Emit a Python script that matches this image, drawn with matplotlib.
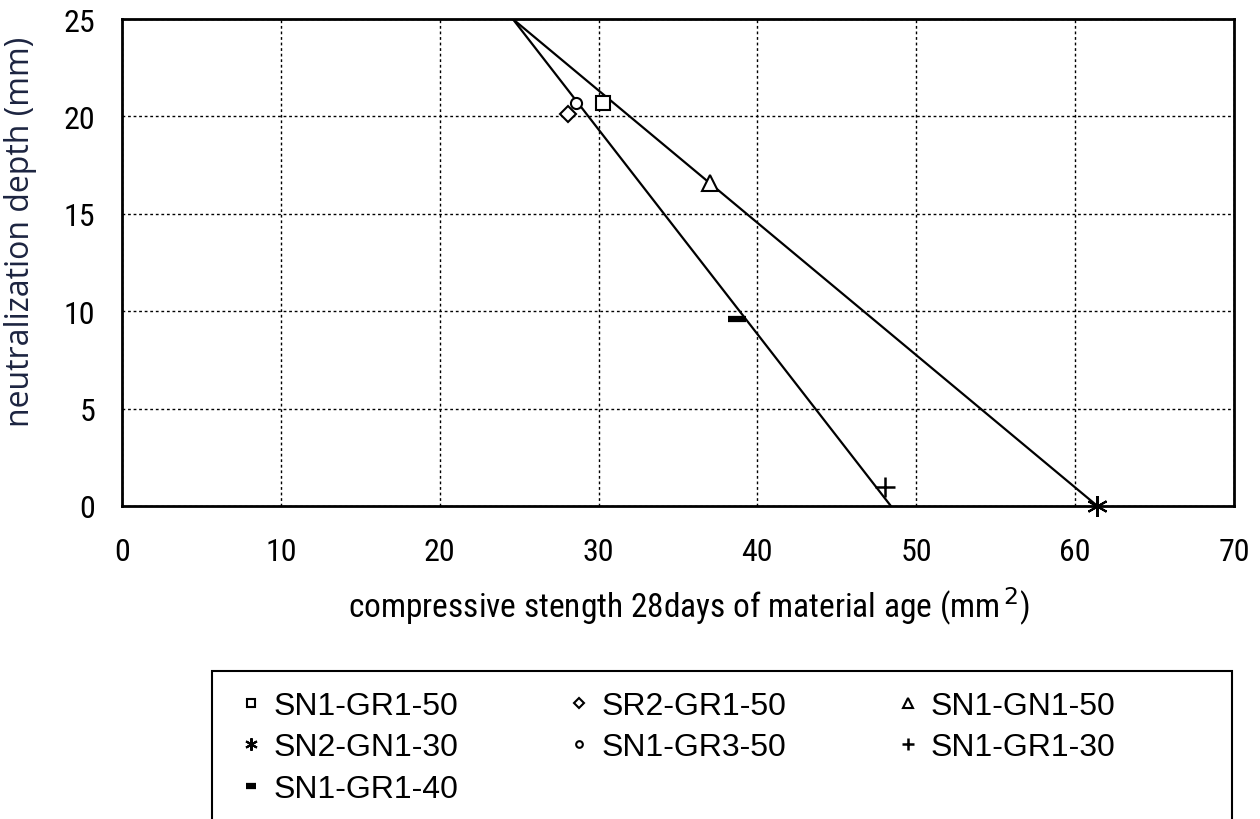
import matplotlib
matplotlib.use("Agg")
import matplotlib.pyplot as plt
from matplotlib import font_manager
from matplotlib.patches import Rectangle

# Specimen names, 28-day compressive strength and neutralization depth
specimens = ["SN1-GR1-50", "SR2-GR1-50", "SN1-GN1-50", "SN2-GN1-30",
             "SN1-GR3-50", "SN1-GR1-30", "SN1-GR1-40"]
strength = [30.3, 28.1, 37.0, 61.4, 28.6, 48.0, 38.7]
depth = [20.7, 20.1, 16.6, 0.0, 20.7, 1.0, 9.6]

# Two fitted trend lines (end points in data units)
trend_a_x = [24.6, 61.4]
trend_a_y = [25.0, 0.0]
trend_b_x = [24.6, 48.4]
trend_b_y = [25.0, 0.0]

x_ticks = [0, 10, 20, 30, 40, 50, 60, 70]
y_ticks = [0, 5, 10, 15, 20, 25]

available = {f.name for f in font_manager.fontManager.ttflist}
narrow = [f for f in ["Liberation Sans Narrow", "Roboto Condensed",
                      "DejaVu Sans Condensed"] if f in available]
plt.rcParams["font.family"] = narrow + ["Liberation Sans", "DejaVu Sans"]

markers = ["s", "D", "^", (6, 2, 0), "o", "+", "_"]
sizes = [10, 8, 11, 15, 8, 14, 13]
mews = [1.5, 1.5, 1.5, 1.5, 1.5, 1.8, 4.5]
hollow = [True, True, True, False, True, False, False]

W, H = 1260, 820
fig = plt.figure(figsize=(W / 100, H / 100), dpi=100)
ax = fig.add_axes([122 / W, 1 - 507 / H, (1234 - 122) / W, (507 - 20) / H])

ax.plot(trend_a_x, trend_a_y, color="black", lw=1.6, zorder=3)
ax.plot(trend_b_x, trend_b_y, color="black", lw=1.6, zorder=3)

handles = []
for name, x, y, m, s, w, hol in zip(specimens, strength, depth, markers, sizes, mews, hollow):
    (h,) = ax.plot([x], [y], linestyle="none", marker=m, markersize=s,
                   markerfacecolor="white" if hol else "black",
                   markeredgecolor="black", markeredgewidth=w,
                   label=name, clip_on=False, zorder=4)
    handles.append(h)

ax.set_xlim(0, 70)
ax.set_ylim(0, 25)
ax.set_xticks(x_ticks)
ax.set_yticks(y_ticks)
ax.tick_params(axis="both", length=0, labelsize=23, colors="black")
ax.tick_params(axis="x", pad=22)
ax.tick_params(axis="y", pad=19)
ax.grid(True, color="black", linestyle=(0, (2, 2)), linewidth=1.0)
for sp in ax.spines.values():
    sp.set_linewidth(2)
    sp.set_color("black")

ax.set_xlabel("compressive stength 28days of material age (mm$^{\\,2}$)", fontsize=24)
ax.xaxis.set_label_coords(0.51, -0.162)
ax.set_ylabel("neutralization depth (mm)", fontsize=23, color="#1c2440",
              family=["Open Sans", "DejaVu Sans"])
ax.yaxis.set_label_coords(-0.076, 0.565)

# Row-major legend layout with three columns, boxed by an open-bottom frame
order = [0, 3, 6, 1, 4, 2, 5]
leg = fig.legend([handles[i] for i in order], [specimens[i] for i in order],
                 ncol=3, loc="upper left", bbox_to_anchor=(238 / W, 1 - 692 / H),
                 frameon=False, prop={"family": ["Liberation Sans", "DejaVu Sans"], "size": 23},
                 markerscale=0.6, handlelength=0.8, handletextpad=0.3,
                 columnspacing=3.4, labelspacing=0.36, borderpad=0.0, borderaxespad=0.0)
frame = Rectangle((212 / W, -0.05), (1232 - 212) / W, 0.05 + 1 - 672 / H,
                  transform=fig.transFigure, fill=False, edgecolor="black",
                  linewidth=1.5, clip_on=False)
fig.add_artist(frame)

fig.savefig("out.png", dpi=100, facecolor="white")
